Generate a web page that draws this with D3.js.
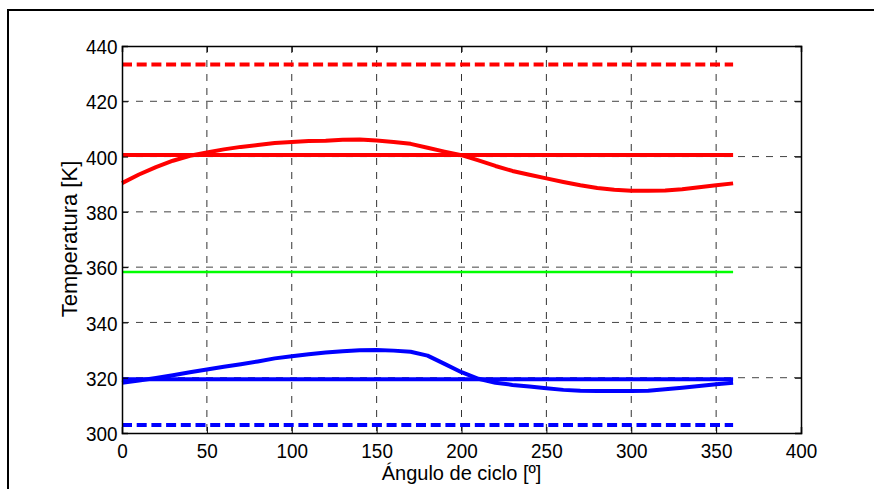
<!DOCTYPE html>
<html>
<head>
<meta charset="utf-8">
<script src="https://cdn.jsdelivr.net/npm/d3@7"></script>
<style>
  body { margin: 0; background: #fff; }
  text { font-family: "Liberation Sans", Arial, sans-serif; fill: #000; }
</style>
</head>
<body>
<div class="content"></div>
<script>
// Data
const angles = [0, 10, 20, 30, 40, 50, 60, 70, 80, 90, 100, 110, 120, 130, 140, 150, 160, 170, 180,
  190, 200, 210, 220, 230, 240, 250, 260, 270, 280, 290, 300, 310, 320, 330, 340, 350, 360];

const hotWall = [390.4, 393.5, 396.2, 398.5, 400.3, 401.5, 402.6, 403.5, 404.2, 404.9, 405.3, 405.6,
  405.7, 406.1, 406.2, 405.8, 405.3, 404.6, 403.2, 401.8, 400.5, 398.6, 396.6, 394.8, 393.4, 392.1,
  390.8, 389.6, 388.6, 388.0, 387.6, 387.6, 387.7, 388.2, 388.9, 389.6, 390.3];

const coldWall = [318.2, 319.0, 319.9, 320.9, 322.0, 323.0, 324.0, 324.9, 325.9, 327.0, 327.8, 328.5,
  329.1, 329.6, 329.9, 330.0, 329.8, 329.4, 328.0, 325.0, 322.0, 319.6, 318.2, 317.4, 316.8, 316.2,
  315.6, 315.3, 315.2, 315.2, 315.2, 315.3, 315.8, 316.4, 317.0, 317.6, 318.2];

// constant temperature levels
const levelNames = ["hotSource", "hotMean", "regenerator", "coldMean", "coldSink"];
const levelValues = [433.3, 400.6, 358.2, 319.4, 302.9];
const levelColors = ["#ff0000", "#ff0000", "#00ff00", "#0000ff", "#0000ff"];
const levelDashed = [true, false, false, false, true];

const xTicks = [0, 50, 100, 150, 200, 250, 300, 350, 400];
const yTicks = [300, 320, 340, 360, 380, 400, 420, 440];

// Dimensions
const W = 874;
const H = 489;
const margin = { top: 46, right: 73, bottom: 56, left: 122 };
const width = W - margin.left - margin.right;
const height = H - margin.top - margin.bottom;

const svg = d3
  .select(".content")
  .append("svg")
  .attr("width", W)
  .attr("height", H);

// outer frame (only left and top edges show)
svg
  .append("rect")
  .attr("x", 8)
  .attr("y", 10)
  .attr("width", 1000)
  .attr("height", 1000)
  .attr("fill", "none")
  .attr("stroke", "#000")
  .attr("stroke-width", 2);

const chart = svg
  .append("g")
  .attr("transform", `translate(${margin.left}, ${margin.top})`);

// Scales
const xScale = d3.scaleLinear().domain([0, 400]).range([0, width]);
const yScale = d3.scaleLinear().domain([300, 440]).range([height, 0]);

// Grid
chart
  .append("g")
  .selectAll("line")
  .data(xTicks.slice(1, -1))
  .join("line")
  .attr("x1", (d) => xScale(d))
  .attr("x2", (d) => xScale(d))
  .attr("y1", 0)
  .attr("y2", height)
  .attr("stroke", "#333")
  .attr("stroke-width", 1)
  .attr("stroke-dasharray", "7,7");

chart
  .append("g")
  .selectAll("line")
  .data(yTicks.slice(1, -1))
  .join("line")
  .attr("x1", 0)
  .attr("x2", width)
  .attr("y1", (d) => yScale(d))
  .attr("y2", (d) => yScale(d))
  .attr("stroke", "#444")
  .attr("stroke-width", 1)
  .attr("stroke-dasharray", "7,7");

// Constant levels
levelNames.forEach((name, i) => {
  chart
    .append("line")
    .attr("class", name)
    .attr("x1", xScale(angles[0]))
    .attr("x2", xScale(angles[angles.length - 1]))
    .attr("y1", yScale(levelValues[i]))
    .attr("y2", yScale(levelValues[i]))
    .attr("stroke", levelColors[i])
    .attr("stroke-width", name === "regenerator" ? 2.5 : 4)
    .attr("stroke-dasharray", levelDashed[i] ? "10,4.7" : null);
});

// Curves
const line = d3
  .line()
  .x((d) => xScale(d[0]))
  .y((d) => yScale(d[1]));

chart
  .append("path")
  .datum(angles.map((a, i) => [a, hotWall[i]]))
  .attr("d", line)
  .attr("fill", "none")
  .attr("stroke", "#ff0000")
  .attr("stroke-width", 4)
  .attr("stroke-linejoin", "round");

chart
  .append("path")
  .datum(angles.map((a, i) => [a, coldWall[i]]))
  .attr("d", line)
  .attr("fill", "none")
  .attr("stroke", "#0000ff")
  .attr("stroke-width", 4)
  .attr("stroke-linejoin", "round");

// Axes (ticks pointing inwards, box around)
const xAxis = d3.axisBottom(xScale).tickValues(xTicks).tickSize(-6).tickPadding(10);
const yAxis = d3.axisLeft(yScale).tickValues(yTicks).tickSize(-6).tickPadding(5);

const gx = chart
  .append("g")
  .attr("class", "axis")
  .attr("transform", `translate(0, ${height})`)
  .call(xAxis);

const gy = chart.append("g").attr("class", "axis").call(yAxis);

chart
  .append("g")
  .call(d3.axisTop(xScale).tickValues(xTicks).tickSize(-6).tickFormat(""));

chart
  .append("g")
  .attr("transform", `translate(${width}, 0)`)
  .call(d3.axisRight(yScale).tickValues(yTicks).tickSize(-6).tickFormat(""));

chart.selectAll(".domain").attr("stroke", "#000").attr("stroke-width", 1.5);
chart.selectAll(".tick line").attr("stroke", "#000");
// tick numbers are a bit condensed in the original
chart
  .selectAll(".axis text")
  .attr("font-size", 21)
  .attr("fill", "#000")
  .attr("transform", "scale(0.9,1)");
gy.selectAll("text").attr("dy", "0.36em");

// Labels
svg
  .append("text")
  .attr("x", margin.left + width / 2)
  .attr("y", 480)
  .attr("text-anchor", "middle")
  .attr("font-size", 20)
  .text("Ángulo de ciclo [º]");

svg
  .append("text")
  .attr("transform", `translate(77, ${margin.top + height / 2 - 0.5}) rotate(-90)`)
  .attr("text-anchor", "middle")
  .attr("font-size", 22)
  .text("Temperatura [K]");
</script>
</body>
</html>
